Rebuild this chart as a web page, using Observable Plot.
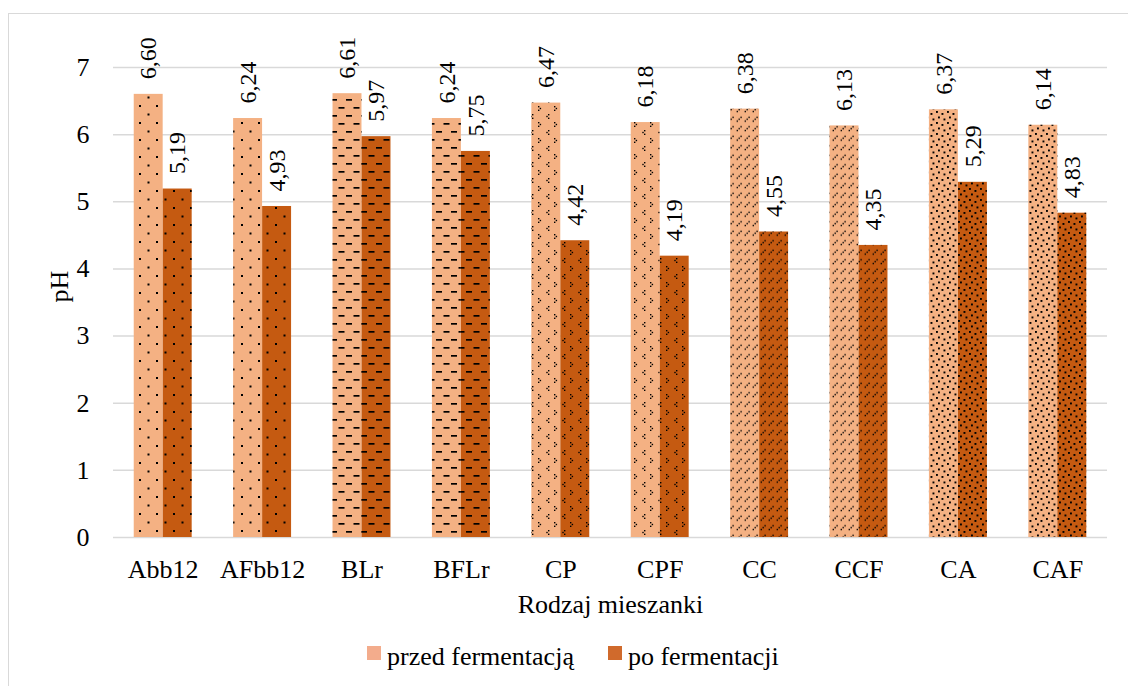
<!DOCTYPE html>
<html><head><meta charset="utf-8">
<script src="https://cdn.jsdelivr.net/npm/d3@7"></script>
<script src="https://cdn.jsdelivr.net/npm/@observablehq/plot@0.6"></script>
<style>
body{margin:0;background:#fff;}
#wrap{position:relative;width:1128px;height:686px;overflow:hidden;font-family:"Liberation Serif","Times New Roman",serif;background:#fff;}
#border{position:absolute;left:8px;top:13px;width:1200px;height:800px;border:1px solid #d9d9d9;box-sizing:border-box;}
#chart{position:absolute;left:0;top:0;}
#legend{position:absolute;left:367px;top:642px;display:flex;align-items:center;font-family:"Liberation Serif",serif;font-size:26px;color:#000;white-space:nowrap;line-height:normal;}
.sw{display:inline-block;width:14px;height:14px;margin-right:6px;position:relative;top:-4px;}
.item2{margin-left:34px;}
</style></head>
<body>
<div id="wrap">
<div id="border"></div>
<svg width="0" height="0" style="position:absolute;left:0;top:0">
<defs>
<pattern id="p-dots" patternUnits="userSpaceOnUse" width="17" height="17">
<rect x="3" y="3" width="2" height="2" fill="#000"/>
<rect x="11.5" y="11.5" width="2" height="2" fill="#000"/>
</pattern>
<pattern id="p-dash" patternUnits="userSpaceOnUse" width="15" height="16">
<rect x="1" y="3" width="6" height="1.7" fill="#000"/>
<rect x="8.5" y="11" width="6" height="1.7" fill="#000"/>
</pattern>
<pattern id="p-divot" patternUnits="userSpaceOnUse" width="16" height="16">
<rect x="4" y="2" width="1.4" height="1.4" fill="#000"/>
<rect x="2.3" y="3.8" width="1.4" height="1.4" fill="#000"/>
<rect x="4" y="5.6" width="1.4" height="1.4" fill="#000"/>
<rect x="10" y="10" width="1.4" height="1.4" fill="#000"/>
<rect x="11.7" y="11.8" width="1.4" height="1.4" fill="#000"/>
<rect x="10" y="13.6" width="1.4" height="1.4" fill="#000"/>
</pattern>
<pattern id="p-diag" patternUnits="userSpaceOnUse" width="8" height="9.5">
<rect x="0.6" y="6.4" width="1.4" height="1.4" fill="#000"/>
<rect x="2.5" y="4.5" width="1.4" height="1.4" fill="#000"/>
<rect x="4.4" y="2.6" width="1.4" height="1.4" fill="#000"/>
</pattern>
<pattern id="p-confetti" patternUnits="userSpaceOnUse" width="11" height="11">
<rect x="1" y="1" width="1.9" height="1.9" fill="#000"/>
<rect x="6.5" y="3" width="1.9" height="1.9" fill="#000"/>
<rect x="3" y="6.5" width="1.9" height="1.9" fill="#000"/>
<rect x="8.5" y="8.5" width="1.9" height="1.9" fill="#000"/>
</pattern>
</defs>
</svg>
<div id="chart"></div>
<div id="legend"></div>
</div>
<script>
const categories = ["Abb12","AFbb12","BLr","BFLr","CP","CPF","CC","CCF","CA","CAF"];
const przed = [6.60, 6.24, 6.61, 6.24, 6.47, 6.18, 6.38, 6.13, 6.37, 6.14];
const po = [5.19, 4.93, 5.97, 5.75, 4.42, 4.19, 4.55, 4.35, 5.29, 4.83];
const patternIds = ["p-dots","p-dots","p-dash","p-dash","p-divot","p-divot","p-diag","p-diag","p-confetti","p-confetti"];
const seriesNames = ["przed fermentacją","po fermentacji"];
const seriesColors = ["#F4B183","#C55A11"];
const legendColors = ["#F3AC8C","#D06A2C"];
const yTicks = [0,1,2,3,4,5,6,7];
const xTitle = "Rodzaj mieszanki";
const yTitle = "pH";

const FONT = "Liberation Serif";
const rowsPrzed = categories.map((c,i)=>({cat:c, value:przed[i], pat:patternIds[i]}));
const rowsPo = categories.map((c,i)=>({cat:c, value:po[i], pat:patternIds[i]}));
const fmt = v => v.toFixed(2).replace(".", ",");
const half = 29;

const chart = Plot.plot({
  width: 1128, height: 630,
  marginLeft: 113, marginRight: 21, marginTop: 67, marginBottom: 93,
  style: {fontFamily: FONT, fontSize: "26px", color: "#000", background: "transparent"},
  x: {domain: categories, paddingInner: 0.417, paddingOuter: 0.2085, round: false, label: null},
  y: {domain: [0, 7], label: null},
  color: {type: "identity"},
  marks: [
    Plot.ruleY(yTicks, {stroke: "#d9d9d9", strokeWidth: 1.5}),
    Plot.barY(rowsPrzed, {x: "cat", y: "value", fill: seriesColors[0], insetRight: half}),
    Plot.barY(rowsPrzed, {x: "cat", y: "value", fill: d => `url(#${d.pat})`, insetRight: half}),
    Plot.barY(rowsPo, {x: "cat", y: "value", fill: seriesColors[1], insetLeft: half}),
    Plot.barY(rowsPo, {x: "cat", y: "value", fill: d => `url(#${d.pat})`, insetLeft: half}),
    Plot.text(rowsPrzed, {x: "cat", y: "value", text: d => fmt(d.value), rotate: -90, textAnchor: "start", dx: -half/2, dy: -15, fontSize: 24, fontFamily: FONT, fill: "#000"}),
    Plot.text(rowsPo, {x: "cat", y: "value", text: d => fmt(d.value), rotate: -90, textAnchor: "start", dx: half/2, dy: -15, fontSize: 24, fontFamily: FONT, fill: "#000"}),
    Plot.axisX({tickSize: 0, tickPadding: 22, fontSize: 26, fontFamily: FONT, label: null}),
    Plot.axisY({ticks: yTicks, tickSize: 0, tickPadding: 24, fontSize: 26, fontFamily: FONT, label: null, tickFormat: d => String(d)}),
    Plot.text([yTitle], {text: d => d, frameAnchor: "left", dx: -54, rotate: -90, fontSize: 26, fontFamily: FONT, fill: "#000"}),
    Plot.text([xTitle], {text: d => d, frameAnchor: "bottom", dy: 75, fontSize: 26, fontFamily: FONT, fill: "#000"})
  ]
});
document.getElementById("chart").appendChild(chart);

const legend = document.getElementById("legend");
seriesNames.forEach((name, i) => {
  const item = document.createElement("span");
  item.style.display = "inline-flex";
  item.style.alignItems = "center";
  if (i > 0) item.className = "item2";
  const sw = document.createElement("span");
  sw.className = "sw";
  sw.style.background = legendColors[i];
  const t = document.createElement("span");
  t.textContent = name;
  item.appendChild(sw); item.appendChild(t);
  legend.appendChild(item);
});
</script>
</body></html>
